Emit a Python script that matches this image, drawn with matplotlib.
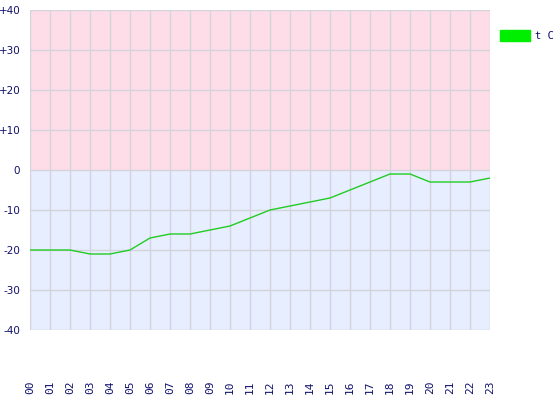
import matplotlib
matplotlib.use("Agg")
import matplotlib.pyplot as plt
from matplotlib.patches import Rectangle

hours = ["00", "01", "02", "03", "04", "05", "06", "07", "08", "09", "10", "11",
         "12", "13", "14", "15", "16", "17", "18", "19", "20", "21", "22", "23"]
temps = [-20, -20, -20, -21, -21, -20, -17, -16, -16, -15, -14, -12,
         -10, -9, -8, -7, -5, -3, -1, -1, -3, -3, -3, -2]
y_ticks = [40, 30, 20, 10, 0, -10, -20, -30, -40]
y_labels = ["+40", "+30", "+20", "+10", "0", "-10", "-20", "-30", "-40"]
series_name = "t C"

navy = "#10106e"
fig = plt.figure(figsize=(5.6, 4.0), dpi=100)
ax = fig.add_axes([30 / 560, 70 / 400, 460 / 560, 320 / 400])

x = list(range(len(hours)))
ax.set_xlim(0, len(hours) - 1)
ax.set_ylim(-40, 40)
ax.axhspan(0, 40, color="#ffdde8", zorder=0, lw=0)
ax.axhspan(-40, 0, color="#e6eeff", zorder=0, lw=0)

for xi in x:
    ax.axvline(xi, color="#d3d3dc", lw=1, zorder=1)
for yt in y_ticks:
    ax.axhline(yt, color="#d3d3dc", lw=1, zorder=1)

ax.plot(x, temps, color="#22cc22", lw=1, zorder=3)

ax.set_xticks(x)
ax.set_xticklabels(hours, rotation=90, fontsize=8, color=navy, family="DejaVu Sans Mono")
ax.set_yticks(y_ticks)
ax.set_yticklabels(y_labels, fontsize=7.5, color=navy, family="DejaVu Sans")
ax.tick_params(axis="x", length=0, pad=36)
ax.tick_params(axis="y", length=0, pad=7)
for s in ax.spines.values():
    s.set_visible(False)

fig.patches.append(Rectangle((500 / 560, (400 - 41) / 400), 30 / 560, 11 / 400,
                             transform=fig.transFigure, color="#00ee00", figure=fig))
fig.text(535 / 560, (400 - 36) / 400, series_name, fontsize=7.5, color=navy,
         va="center", ha="left", family="DejaVu Sans Mono")

fig.savefig("out.png", dpi=100, facecolor="white")
